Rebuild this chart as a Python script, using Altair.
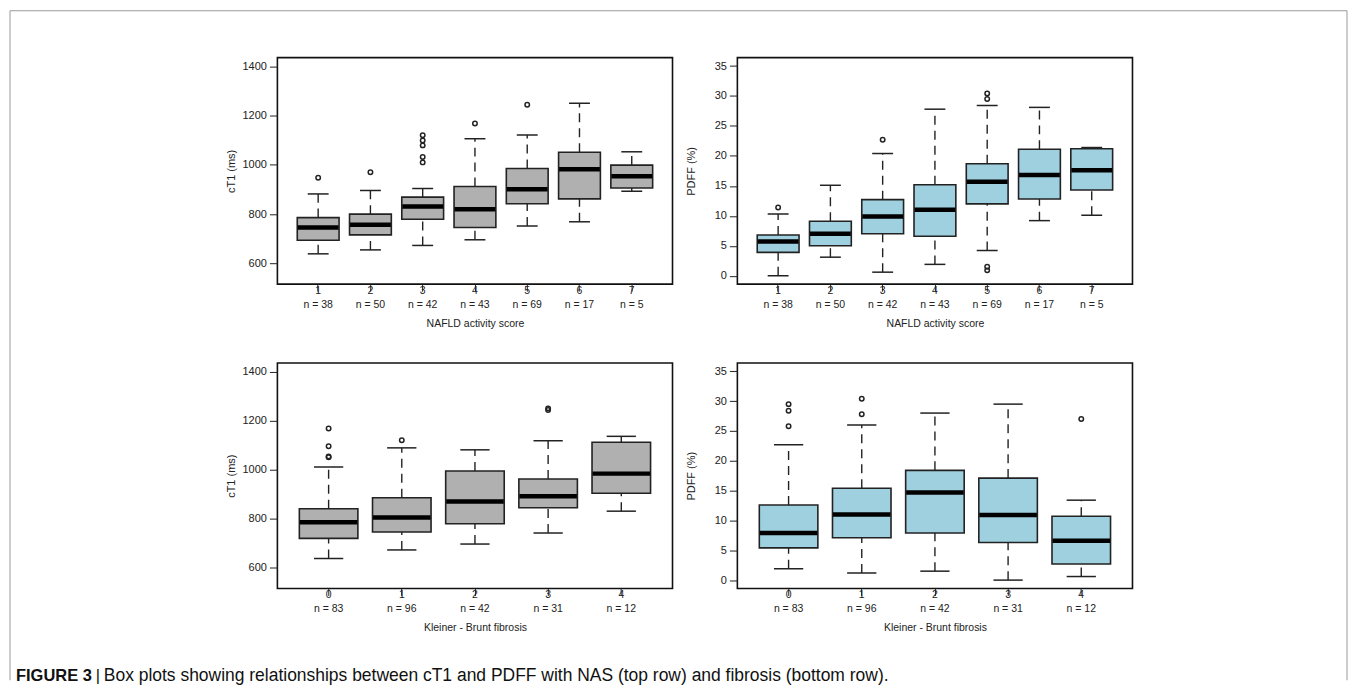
import altair as alt
import pandas as pd

# ---------------- data ----------------
nas_levels = ["1", "2", "3", "4", "5", "6", "7"]
nas_n = [38, 50, 42, 43, 69, 17, 5]
fib_levels = ["0", "1", "2", "3", "4"]
fib_n = [83, 96, 42, 31, 12]

# cT1 vs NAFLD activity score
ct1_nas_low = [639, 655, 673, 696, 752, 769, 893]
ct1_nas_q1 = [694, 716, 779, 746, 842, 862, 906]
ct1_nas_med = [746, 757, 831, 820, 901, 982, 954]
ct1_nas_q3 = [786, 800, 869, 912, 985, 1051, 999]
ct1_nas_high = [882, 896, 904, 1106, 1121, 1250, 1053]
ct1_nas_out = [[948], [970], [1120, 1099, 1079, 1032, 1010], [1168], [1244], [], []]

# PDFF vs NAFLD activity score
pdff_nas_low = [0.0, 3.1, 0.6, 1.9, 4.2, 9.2, 10.1]
pdff_nas_q1 = [3.9, 5.0, 7.0, 6.6, 12.0, 12.8, 14.3]
pdff_nas_med = [5.7, 7.0, 9.9, 11.0, 15.7, 16.8, 17.6]
pdff_nas_q3 = [6.8, 9.1, 12.7, 15.2, 18.7, 21.1, 21.2]
pdff_nas_high = [10.3, 15.1, 20.4, 27.8, 28.4, 28.1, 21.4]
pdff_nas_out = [[11.4], [], [22.7], [], [30.4, 29.5, 1.5, 0.9], [], []]

# cT1 vs Kleiner-Brunt fibrosis
ct1_fib_low = [638, 673, 697, 742, 831]
ct1_fib_q1 = [720, 746, 780, 845, 904]
ct1_fib_med = [786, 805, 870, 892, 984]
ct1_fib_q3 = [841, 886, 995, 962, 1112]
ct1_fib_high = [1011, 1089, 1081, 1118, 1136]
ct1_fib_out = [[1168, 1096, 1054, 1051], [1120], [], [1250, 1243], []]

# PDFF vs Kleiner-Brunt fibrosis
pdff_fib_low = [1.9, 1.2, 1.5, 0.0, 0.6]
pdff_fib_q1 = [5.4, 7.1, 7.9, 6.3, 2.7]
pdff_fib_med = [7.9, 11.0, 14.7, 10.9, 6.6]
pdff_fib_q3 = [12.6, 15.4, 18.4, 17.1, 10.7]
pdff_fib_high = [22.7, 26.0, 28.0, 29.5, 13.4]
pdff_fib_out = [[29.5, 28.4, 25.8], [30.4, 27.8], [], [], [27.0]]

ct1_ticks = [600, 800, 1000, 1200, 1400]
pdff_ticks = [0, 5, 10, 15, 20, 25, 30, 35]
ct1_domain = [516, 1435]
pdff_domain = [-1.4, 36.4]

caption_bold = "FIGURE 3"
caption_bar = "|"
caption_rest = "Box plots showing relationships between cT1 and PDFF with NAS (top row) and fibrosis (bottom row)."

# ---------------- styling ----------------
FONT = "Liberation Sans"
INK = "#222222"
GRAY = "#b0b0b0"
BLUE = "#9fd0e0"
W, H_TOP, H_BOT = 396, 227, 226


def panel(levels, ns, low, q1, med, q3, high, outs, ydom, yticks, ytitle,
          xtitle, fill, height, extra=None):
    labels = [f"{l}|n = {n}" for l, n in zip(levels, ns)]
    k = len(labels)
    step = W / (k * 1.08)
    box_w = 0.8 * step
    cap_w = 0.4 * step
    stats = pd.DataFrame(dict(lab=labels, low=low, q1=q1, med=med, q3=q3, high=high))
    out_rows = [(labels[i], v) for i, vs in enumerate(outs) for v in vs]
    out_df = pd.DataFrame(out_rows, columns=["lab", "v"])

    x = alt.X("lab:N", sort=labels,
              scale=alt.Scale(type="band", domain=labels, paddingInner=0,
                              paddingOuter=0.04 * k),
              axis=alt.Axis(title=xtitle, labelExpr="split(datum.value, '|')",
                            labelAngle=0))

    def Y(field):
        return alt.Y(f"{field}:Q",
                     scale=alt.Scale(domain=ydom, nice=False, zero=False),
                     axis=alt.Axis(title=ytitle, values=yticks, format="d"))

    base = alt.Chart(stats)
    whisk_hi = base.mark_rule(strokeDash=[9, 6], strokeWidth=1.4, color=INK).encode(
        x=x, y=Y("q3"), y2="high:Q")
    whisk_lo = base.mark_rule(strokeDash=[9, 6], strokeWidth=1.4, color=INK).encode(
        x=x, y=Y("low"), y2="q1:Q")
    cap_hi = base.mark_tick(size=cap_w, thickness=1.5, color=INK, opacity=1).encode(
        x=x, y=Y("high"))
    cap_lo = base.mark_tick(size=cap_w, thickness=1.5, color=INK, opacity=1).encode(
        x=x, y=Y("low"))
    box = base.mark_bar(size=box_w, fill=fill, stroke=INK, strokeWidth=1.6,
                        opacity=1).encode(x=x, y=Y("q1"), y2="q3:Q")
    median = base.mark_tick(size=box_w - 1, thickness=4.5, color="#000000",
                            opacity=1).encode(x=x, y=Y("med"))
    layers = [whisk_hi, whisk_lo, cap_hi, cap_lo, box, median]
    if len(out_df):
        pts = alt.Chart(out_df).mark_point(shape="circle", filled=False, size=20,
                                           strokeWidth=1.5, color=INK,
                                           opacity=1).encode(x=x, y=Y("v"))
        layers.append(pts)
    if extra:
        layers += extra
    return alt.layer(*layers).properties(width=W, height=height)


dummy = pd.DataFrame({"d": [0]})
FL, FR, FT, FB = -268, 1072, -47, 624
frame_color = "#9a9a9a"
frame = [
    alt.Chart(dummy).mark_rule(color=frame_color, strokeWidth=1).encode(
        x=alt.value(FL), x2=alt.value(FR), y=alt.value(FT)),
    alt.Chart(dummy).mark_rule(color=frame_color, strokeWidth=1).encode(
        x=alt.value(FL), y=alt.value(FT), y2=alt.value(FB)),
    alt.Chart(dummy).mark_rule(color=frame_color, strokeWidth=1).encode(
        x=alt.value(FR), y=alt.value(FT), y2=alt.value(FB)),
]

CAP_FONT = "Liberation Sans"
CAP_Y = 314
caption = [
    alt.Chart(dummy).mark_text(align="left", baseline="middle", fontSize=16.5,
                               fontWeight="bold", font=CAP_FONT,
                               color="#111111").encode(
        x=alt.value(-262), y=alt.value(CAP_Y), text=alt.value(caption_bold)),
    alt.Chart(dummy).mark_text(align="left", baseline="middle", fontSize=16.5,
                               font=CAP_FONT, color="#111111").encode(
        x=alt.value(-182), y=alt.value(CAP_Y), text=alt.value(caption_bar)),
    alt.Chart(dummy).mark_text(align="left", baseline="middle", fontSize=17.5,
                               font=CAP_FONT, color="#111111").encode(
        x=alt.value(-174), y=alt.value(CAP_Y), text=alt.value(caption_rest)),
]

tl = panel(nas_levels, nas_n, ct1_nas_low, ct1_nas_q1, ct1_nas_med, ct1_nas_q3,
           ct1_nas_high, ct1_nas_out, ct1_domain, ct1_ticks, "cT1 (ms)",
           "NAFLD activity score", GRAY, H_TOP, extra=frame)
tr = panel(nas_levels, nas_n, pdff_nas_low, pdff_nas_q1, pdff_nas_med, pdff_nas_q3,
           pdff_nas_high, pdff_nas_out, pdff_domain, pdff_ticks, "PDFF (%)",
           "NAFLD activity score", BLUE, H_TOP)
bl = panel(fib_levels, fib_n, ct1_fib_low, ct1_fib_q1, ct1_fib_med, ct1_fib_q3,
           ct1_fib_high, ct1_fib_out, ct1_domain, ct1_ticks, "cT1 (ms)",
           "Kleiner - Brunt fibrosis", GRAY, H_BOT, extra=caption)
br = panel(fib_levels, fib_n, pdff_fib_low, pdff_fib_q1, pdff_fib_med, pdff_fib_q3,
           pdff_fib_high, pdff_fib_out, pdff_domain, pdff_ticks, "PDFF (%)",
           "Kleiner - Brunt fibrosis", BLUE, H_BOT)

chart = alt.ConcatChart(
    concat=[tl, tr, bl, br], columns=2, bounds="flush",
    spacing={"row": 79, "column": 65},
).properties(
    padding=0
).configure_view(
    stroke="#111111", strokeWidth=1.6
).configure_axis(
    grid=False, domain=False, tickColor=INK, tickWidth=1,
    labelFont=FONT, titleFont=FONT, labelColor=INK, titleColor=INK,
    titleFontWeight="normal",
).configure_axisBottom(
    tickSize=7, labelPadding=-6, labelFontSize=10.5, labelLineHeight=14,
    titleFontSize=10.5, titlePadding=9,
).configure_axisLeft(
    tickSize=8, labelPadding=3, labelFontSize=11, minExtent=36, maxExtent=36,
    titleFontSize=11, titlePadding=5,
)

chart.save("out.html", embed_options={"renderer": "svg", "actions": False})
